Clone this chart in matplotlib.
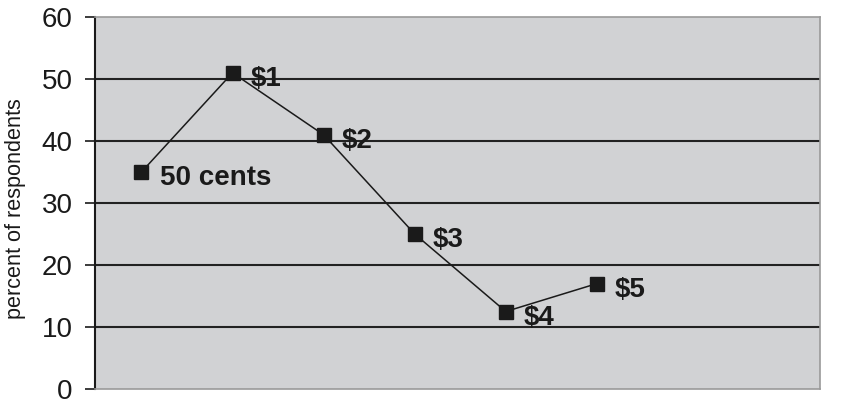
import matplotlib
matplotlib.use("Agg")
import matplotlib.pyplot as plt
from matplotlib.transforms import offset_copy

plt.rcParams['font.family'] = ['Liberation Sans', 'DejaVu Sans']

labels = ["50 cents", "$1", "$2", "$3", "$4", "$5"]
values = [35, 51, 41, 25, 12.5, 17]
yticks = [0, 10, 20, 30, 40, 50, 60]

fig = plt.figure(figsize=(8.47, 4.09), dpi=100)
ax = fig.add_axes([95/847, 20/409, 725/847, 372/409])
ax.set_facecolor('#d1d2d4')

x = [i + 0.5 for i in range(len(values))]
ax.set_xlim(-0.01, 7.95)
ax.set_ylim(0, 60)

for yv in yticks[1:-1]:
    ax.axhline(yv, color='#222222', lw=1.5, zorder=1)

ax.plot(x, values, color='#1a1a1a', lw=1.1, marker='s', markersize=9.4,
        markerfacecolor='#1a1a1a', markeredgecolor='#1a1a1a', zorder=3)

for xi, yi, lab in zip(x, values, labels):
    tr = offset_copy(ax.transData, fig=fig, x=13, y=-9.5, units='points')
    ax.text(xi, yi, lab, transform=tr, fontsize=20, fontweight='bold',
            color='#1a1a1a', ha='left', va='baseline', zorder=4)

ax.set_yticks(yticks)
ax.set_yticklabels([str(v) for v in yticks], fontsize=20, color='#1a1a1a')
ax.tick_params(axis='y', direction='out', length=7.2, width=1.2, pad=9, colors='#1a1a1a')
ax.set_xticks([])

for s in ['top', 'right', 'bottom']:
    ax.spines[s].set_color('#9a9a9a')
    ax.spines[s].set_linewidth(1.2)
ax.spines['left'].set_color('#1a1a1a')
ax.spines['left'].set_linewidth(1.5)

fig.text(15.5/847, 1 - 209/409, "percent of respondents", rotation=90,
         fontsize=15.6, color='#1a1a1a', ha='center', va='center')

fig.savefig("out.png", dpi=100, facecolor='white')
